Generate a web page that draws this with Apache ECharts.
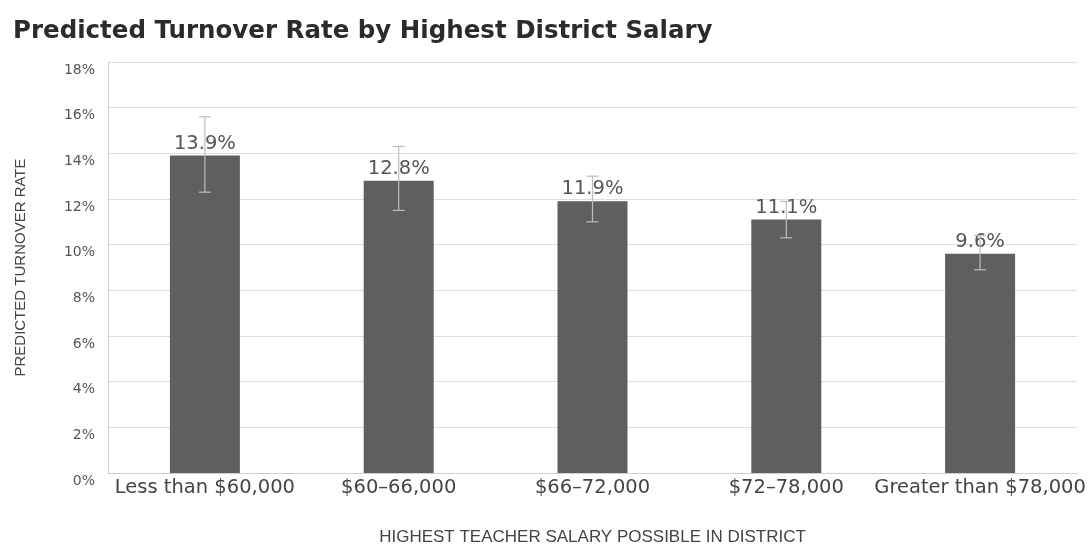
<!DOCTYPE html>
<html>
<head>
<meta charset="utf-8">
<script src="https://cdn.jsdelivr.net/npm/echarts@6/dist/echarts.min.js"></script>
<style>
  html, body { margin: 0; padding: 0; background: #fff; }
  #chart { width: 1089px; height: 546px; }
</style>
</head>
<body>
<div id="chart"></div>
<script>
// 数据
var categories = ["Less than $60,000", "$60\u201366,000", "$66\u201372,000", "$72\u201378,000", "Greater than $78,000"];
var rates = [13.9, 12.8, 11.9, 11.1, 9.6];
var errLow = [12.3, 11.5, 11.0, 10.3, 8.9];
var errHigh = [15.6, 14.3, 13.0, 11.9, 10.4];
var yTicks = [0, 2, 4, 6, 8, 10, 12, 14, 16, 18];

var myChart = echarts.init(document.getElementById("chart"));

var errData = categories.map(function (c, i) {
  return [i, errLow[i], errHigh[i]];
});

myChart.setOption({
  animation: false,
  title: {
    text: "Predicted Turnover Rate by Highest District Salary",
    left: 8,
    top: 14,
    textStyle: {
      fontFamily: "DejaVu Sans",
      fontWeight: "bold",
      fontSize: 24.5,
      color: "#2b2b2b"
    }
  },
  grid: {
    left: 108,
    right: 12,
    top: 62,
    bottom: 73,
    outerBoundsMode: "none",
    containLabel: false
  },
  xAxis: {
    type: "category",
    data: categories,
    name: "HIGHEST TEACHER SALARY POSSIBLE IN DISTRICT",
    nameLocation: "middle",
    nameGap: 56,
    nameTextStyle: {
      fontFamily: "Liberation Sans",
      fontSize: 17,
      color: "#444"
    },
    axisLine: { lineStyle: { color: "#cfcfcf" } },
    axisTick: { show: false },
    axisLabel: {
      interval: 0,
      margin: 5,
      fontFamily: "DejaVu Sans",
      fontSize: 19.5,
      color: "#444"
    }
  },
  yAxis: {
    type: "value",
    min: yTicks[0],
    max: yTicks[yTicks.length - 1],
    interval: 2,
    name: "PREDICTED TURNOVER RATE",
    nameLocation: "middle",
    nameGap: 80,
    nameRotate: 90,
    nameTextStyle: {
      fontFamily: "Liberation Sans",
      fontSize: 15,
      color: "#444"
    },
    axisLine: { show: true, lineStyle: { color: "#cfcfcf" } },
    axisTick: { show: false },
    splitLine: { lineStyle: { color: "#dedede" } },
    axisLabel: {
      margin: 13,
      verticalAlign: "top",
      padding: [1, 0, 0, 0],
      fontFamily: "DejaVu Sans",
      fontSize: 14,
      color: "#555",
      formatter: "{value}%"
    }
  },
  series: [
    {
      name: "rate",
      type: "bar",
      data: rates,
      barWidth: 70,
      itemStyle: { color: "#5f5f5f" },
      label: {
        show: true,
        position: "top",
        distance: 2,
        fontFamily: "DejaVu Sans",
        fontSize: 19.5,
        color: "#555",
        formatter: function (p) { return p.value.toFixed(1) + "%"; }
      },
      z: 2
    },
    {
      name: "error",
      type: "custom",
      data: errData,
      z: 3,
      renderItem: function (params, api) {
        var x = api.value(0);
        var lo = api.coord([x, api.value(1)]);
        var hi = api.coord([x, api.value(2)]);
        var cap = 6;
        var style = { stroke: "#bdbdbd", lineWidth: 1.2 };
        return {
          type: "group",
          children: [
            { type: "line", shape: { x1: hi[0], y1: hi[1], x2: lo[0], y2: lo[1] }, style: style },
            { type: "line", shape: { x1: hi[0] - cap, y1: hi[1], x2: hi[0] + cap, y2: hi[1] }, style: style },
            { type: "line", shape: { x1: lo[0] - cap, y1: lo[1], x2: lo[0] + cap, y2: lo[1] }, style: style }
          ]
        };
      }
    }
  ]
});
</script>
</body>
</html>
